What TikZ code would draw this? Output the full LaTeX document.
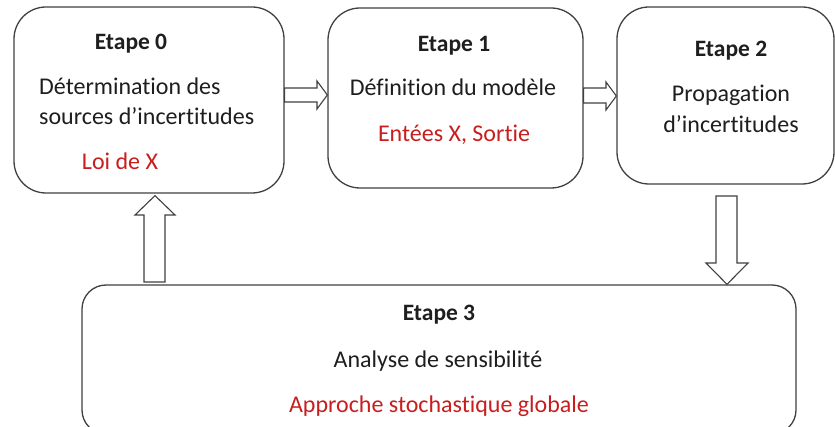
\documentclass[tikz,border=0pt]{standalone}
\usepackage{fontspec}
\setmainfont[Ligatures={NoCommon,NoContextual}]{Carlito}
\usetikzlibrary{calc}
\definecolor{edge}{RGB}{64,64,64}
\definecolor{note}{RGB}{200,30,30}
\definecolor{ink}{RGB}{30,30,30}
\tikzset{
  stagebox/.style={draw=edge, line width=1.3pt, rounded corners=32pt, fill=white, inner sep=0pt},
  widebox/.style={stagebox, rounded corners=24pt},
  flowarrow/.style={draw=edge, line width=1.1pt, fill=white, line join=miter},
  txt/.style={anchor=base, inner sep=0pt, text=ink, font=\fontsize{24}{28}\selectfont},
  ttl/.style={txt, font=\fontsize{23.5}{28}\selectfont\bfseries},
  red/.style={txt, text=note},
}
\begin{document}
\begin{tikzpicture}[x=1pt, y=-1pt]
\useasboundingbox (0,0) rectangle (835,427);
\clip (0,0) rectangle (835,427);

% stage boxes
\node[stagebox, minimum width=270pt, minimum height=186pt] (b0) at (149,100) {};
\node[stagebox, minimum width=255pt, minimum height=180pt] (b1) at (455.5,98) {};
\node[stagebox, minimum width=217pt, minimum height=177pt] (b2) at (725.5,95.5) {};
\node[widebox,  minimum width=714pt, minimum height=149pt] (b3) at (439,359.5) {};

% texts of stage 0
\node[ttl] (t0) at (131,50) {Etape 0};
\node[txt, anchor=base west] (d0a) at (39,95) {Détermination des};
\node[txt, anchor=base west] (d0b) at (39,125) {sources d’incertitudes};
\node[red] (r0) at (120,170) {Loi de X};

% texts of stage 1
\node[ttl] (t1) at (454,52) {Etape 1};
\node[txt] (d1) at (453,96) {Définition du modèle};
\node[red] (r1) at (454,142) {Entées X, Sortie};

% texts of stage 2
\node[ttl] (t2) at (731,57) {Etape 2};
\node[txt] (d2a) at (731,102) {Propagation};
\node[txt] (d2b) at (731,133) {d’incertitudes};

% texts of stage 3
\node[ttl] (t3) at (439,321) {Etape 3};
\node[txt] (d3) at (438,367) {Analyse de sensibilité};
\node[red] (r3) at (439,412) {Approche stochastique globale};

% block arrows between the stages
% stage 0 -> stage 1
\draw[flowarrow] ($(b0.east |- 0,88)$) -- (317,88) -- (317,81) -- ($(b1.west |- 0,95)$)
  -- (317,109) -- (317,102) -- ($(b0.east |- 0,102)$) -- cycle;
% stage 1 -> stage 2
\draw[flowarrow] ($(b1.east |- 0,88)$) -- (606,88) -- (606,82) -- ($(b2.west |- 0,96)$)
  -- (606,110) -- (606,103) -- ($(b1.east |- 0,103)$) -- cycle;
% stage 2 -> stage 3
\draw[flowarrow] (716,196) -- (737,196) -- (737,263) -- (748,263) -- ($(b3.north -| 727,0)$)
  -- (706,263) -- (716,263) -- cycle;
% stage 3 -> stage 0
\draw[flowarrow] (144,282) -- (144,215) -- (135,215) -- ($(b0.south -| 155,0)+(0,2)$)
  -- (175,215) -- (165,215) -- (165,282) -- cycle;
\end{tikzpicture}
\end{document}
